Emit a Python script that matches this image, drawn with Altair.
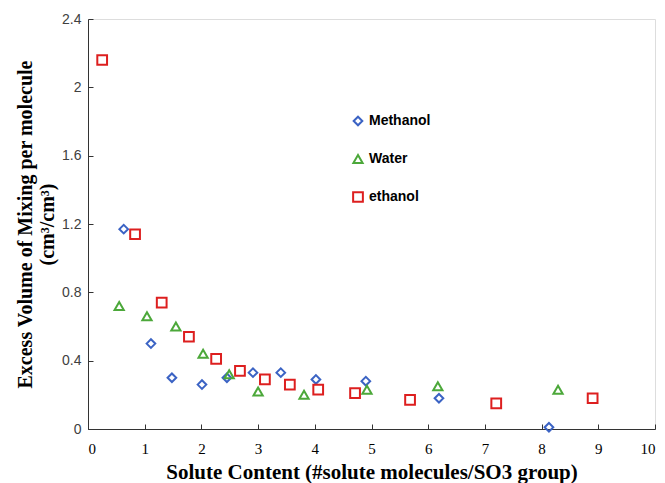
import altair as alt
import pandas as pd

methanol_x = [0.63, 1.11, 1.48, 2.01, 2.45, 2.91, 3.40, 4.02, 4.90, 6.19, 8.13]
methanol_y = [1.17, 0.50, 0.30, 0.26, 0.30, 0.33, 0.33, 0.29, 0.28, 0.18, 0.01]
water_x = [0.55, 1.04, 1.55, 2.03, 2.49, 3.00, 3.81, 4.92, 6.17, 8.29]
water_y = [0.72, 0.66, 0.60, 0.44, 0.32, 0.22, 0.20, 0.23, 0.25, 0.23]
ethanol_x = [0.25, 0.83, 1.30, 1.78, 2.26, 2.68, 3.12, 3.56, 4.06, 4.71, 5.68, 7.20, 8.90]
ethanol_y = [2.16, 1.14, 0.74, 0.54, 0.41, 0.34, 0.29, 0.26, 0.23, 0.21, 0.17, 0.15, 0.18]

series = ["Methanol", "Water", "ethanol"]
colors = ["#3B63C4", "#4CA83A", "#DD1F1F"]
shapes = ["diamond", "triangle-up", "square"]
sizes = [75, 95, 110]

rows = []
for name, xs, ys in zip(series, [methanol_x, water_x, ethanol_x], [methanol_y, water_y, ethanol_y]):
    for x, y in zip(xs, ys):
        rows.append({"Solute": x, "Volume": y, "Series": name})
df = pd.DataFrame(rows)

inward = {"expr": "-5"}

chart = alt.Chart(df).mark_point(filled=False, strokeWidth=2, opacity=1).encode(
    x=alt.X("Solute:Q", scale=alt.Scale(domain=[0, 10], nice=False),
            axis=alt.Axis(title="Solute Content (#solute molecules/SO3 group)",
                          values=list(range(0, 11)), grid=False, tickSize=inward,
                          labelFont="Liberation Serif", labelFontSize=15, labelColor="#000000",
                          labelPadding=17, titleFont="Liberation Serif", titleFontSize=21,
                          titleFontWeight="bold", titleColor="#000000", titlePadding=5,
                          domainColor="#333333", tickColor="#333333")),
    y=alt.Y("Volume:Q", scale=alt.Scale(domain=[0, 2.4], nice=False),
            axis=alt.Axis(title=["Excess Volume of Mixing per molecule", "(cm³/cm³)"],
                          values=[0, 0.4, 0.8, 1.2, 1.6, 2.0, 2.4], format="~g", grid=False,
                          tickSize=inward, labelFont="Liberation Sans", labelFontSize=14,
                          labelColor="#404040", labelPadding=12,
                          titleFont="Liberation Serif", titleFontSize=20, titleFontWeight="bold",
                          titleColor="#000000", titlePadding=4, titleLineHeight=22,
                          domainColor="#333333", tickColor="#333333")),
    color=alt.Color("Series:N", scale=alt.Scale(domain=series, range=colors),
                    legend=alt.Legend(title=None, orient="none", legendX=263, legendY=95,
                                      labelFont="Liberation Sans", labelFontSize=14,
                                      labelFontWeight="bold", labelColor="#000000",
                                      rowPadding=21, symbolSize=80, symbolStrokeWidth=2,
                                      labelOffset=4)),
    shape=alt.Shape("Series:N", scale=alt.Scale(domain=series, range=shapes)),
    size=alt.Size("Series:N", scale=alt.Scale(domain=series, range=sizes), legend=None),
).properties(
    width=567, height=410,
    autosize=alt.AutoSizeParams(type="none"),
    padding={"left": 88, "top": 19, "right": 10, "bottom": 54},
).configure_view(stroke=None).configure(background="white")

chart.save("out.html", embed_options={"renderer": "svg", "actions": False})
